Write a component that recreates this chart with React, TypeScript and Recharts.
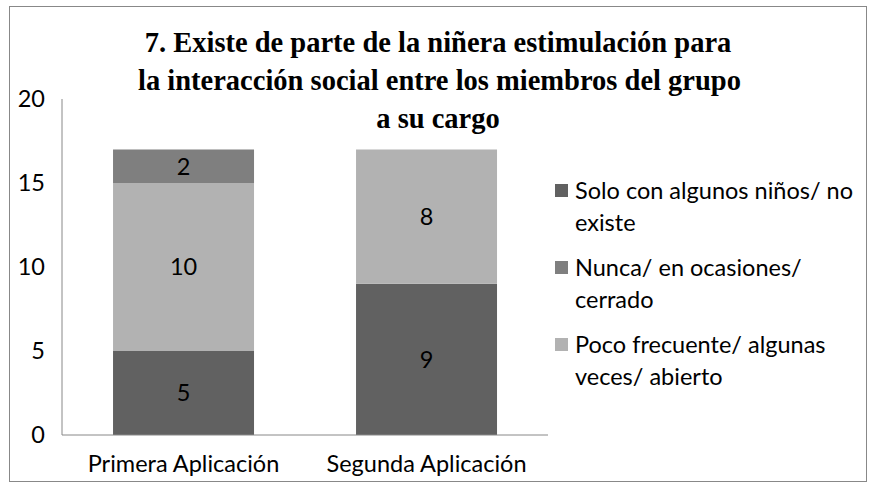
import { BarChart, Bar, XAxis, YAxis, LabelList } from "recharts";

const categories = ["Primera Aplicación", "Segunda Aplicación"];
const soloValues = [5, 9];
const pocoValues = [10, 8];
const nuncaValues = [2, 0];
const yTicks = [0, 5, 10, 15, 20];

const titleLines = [
  "7. Existe de parte de la niñera estimulación para",
  "la interacción social entre los miembros del grupo",
  "a su cargo",
];

const legendItems = [
  { label: ["Solo con algunos niños/ no", "existe"], color: "#616161" },
  { label: ["Nunca/ en ocasiones/", "cerrado"], color: "#7f7f7f" },
  { label: ["Poco frecuente/ algunas", "veces/ abierto"], color: "#b2b2b2" },
];

const data = categories.map((name, i) => ({
  name,
  solo: soloValues[i],
  poco: pocoValues[i],
  nunca: nuncaValues[i],
}));

const FONT = "Lato, 'Open Sans', sans-serif";
const FS = 23.5;
const hideZero = (v: any) => (v ? v : "");

export default function App() {
  return (
    <div
      style={{
        position: "absolute",
        left: 0,
        top: 0,
        width: 875,
        height: 489,
        background: "#fff",
        fontFamily: FONT,
      }}
    >
      {/* outer frame */}
      <div
        style={{
          position: "absolute",
          left: 9,
          top: 6,
          width: 856,
          height: 474,
          border: "1px solid #888",
        }}
      />
      <div
        style={{
          position: "absolute",
          left: 138,
          top: 24,
          width: 600,
          textAlign: "center",
          fontFamily: "'Liberation Serif', 'Times New Roman', serif",
          fontWeight: "bold",
          fontSize: 28.5,
          lineHeight: "38px",
          color: "#000",
        }}
      >
        {titleLines.map((l) => (
          <div key={l} style={{ whiteSpace: "nowrap" }}>
            {l}
          </div>
        ))}
      </div>

      <div style={{ position: "absolute", left: 0, top: 0 }}>
        <BarChart
          width={875}
          height={489}
          data={data}
          margin={{ top: 99, right: 327, left: 12, bottom: 24 }}
          barCategoryGap="21%"
        >
          <XAxis
            dataKey="name"
            axisLine={{ stroke: "#888" }}
            tickLine={false}
            tickSize={8}
            tickMargin={12}
            height={30}
            tick={{ fill: "#000", fontSize: FS, fontFamily: FONT }}
          />
          <YAxis
            domain={[0, 20]}
            ticks={yTicks}
            width={50}
            axisLine={{ stroke: "#888" }}
            tickLine={false}
            tickSize={8}
            tickMargin={9}
            tick={{ fill: "#000", fontSize: FS, fontFamily: FONT }}
          />
          <Bar dataKey="solo" stackId="a" fill="#616161" isAnimationActive={false}>
            <LabelList dataKey="solo" position="center" fill="#000" fontSize={FS} fontFamily={FONT} formatter={hideZero} />
          </Bar>
          <Bar dataKey="poco" stackId="a" fill="#b2b2b2" isAnimationActive={false}>
            <LabelList dataKey="poco" position="center" fill="#000" fontSize={FS} fontFamily={FONT} formatter={hideZero} />
          </Bar>
          <Bar dataKey="nunca" stackId="a" fill="#7f7f7f" isAnimationActive={false}>
            <LabelList dataKey="nunca" position="center" fill="#000" fontSize={FS} fontFamily={FONT} formatter={hideZero} />
          </Bar>
        </BarChart>
      </div>

      {/* legend */}
      <div style={{ position: "absolute", left: 555, top: 174, fontSize: FS, lineHeight: "32px", color: "#000" }}>
        {legendItems.map((it) => (
          <div key={it.label[0]} style={{ position: "relative", paddingLeft: 20, marginBottom: 13 }}>
            <span
              style={{
                position: "absolute",
                left: 0,
                top: 10,
                width: 13,
                height: 13,
                background: it.color,
              }}
            />
            {it.label.map((l) => (
              <div key={l} style={{ whiteSpace: "nowrap" }}>
                {l}
              </div>
            ))}
          </div>
        ))}
      </div>
    </div>
  );
}
